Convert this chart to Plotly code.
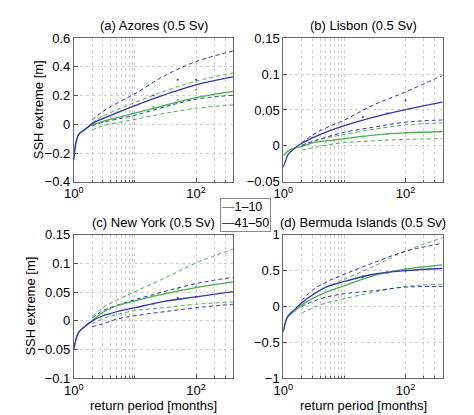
import plotly.graph_objects as go

# return periods [months]
x_fit = [1, 1.1, 1.2, 1.5, 2, 3, 5, 10, 30, 100, 400]
x_ci = [2, 3, 5, 10, 30, 100, 400]

titles = ["(a) Azores (0.5 Sv)", "(b) Lisbon (0.5 Sv)",
          "(c) New York (0.5 Sv)", "(d) Bermuda Islands (0.5 Sv)"]
legend_names = ["1\u201310", "41\u201350"]

# years 1-10 (green)
g_fit_a = [-0.2, -0.11, -0.07, -0.035, -0.005, 0.02, 0.045, 0.077, 0.13, 0.185, 0.229]
g_hi_a = [0.01, 0.056, 0.1, 0.152, 0.23, 0.30, 0.358]
g_lo_a = [-0.04, -0.011, 0.01, 0.034, 0.075, 0.112, 0.135]
# years 41-50 (blue)
b_fit_a = [-0.25, -0.12, -0.07, -0.04, 0.005, 0.04, 0.08, 0.13, 0.205, 0.275, 0.33]
b_hi_a = [0.03, 0.09, 0.146, 0.213, 0.336, 0.437, 0.51]
b_lo_a = [-0.01, 0.015, 0.035, 0.063, 0.12, 0.175, 0.202]

g_fit_b = [-0.014, -0.01, -0.007, -0.003, -0.001, 0.004, 0.007, 0.010, 0.015, 0.018, 0.020]
g_hi_b = [0.0, 0.006, 0.011, 0.016, 0.023, 0.029, 0.032]
g_lo_b = [-0.006, -0.003, 0.001, 0.0045, 0.007, 0.009, 0.010]
b_fit_b = [-0.03, -0.02, -0.012, -0.004, 0.0036, 0.011, 0.019, 0.028, 0.040, 0.0506, 0.061]
b_hi_b = [0.004, 0.015, 0.025, 0.036, 0.057, 0.075, 0.098]
b_lo_b = [0.001, 0.006, 0.012, 0.019, 0.026, 0.033, 0.036]

g_fit_c = [-0.05, -0.03, -0.02, -0.01, 0.0, 0.015, 0.026, 0.035, 0.047, 0.058, 0.068]
g_hi_c = [0.008, 0.023, 0.036, 0.051, 0.074, 0.101, 0.125]
g_lo_c = [-0.005, 0.004, 0.011, 0.018, 0.023, 0.029, 0.033]
b_fit_c = [-0.05, -0.03, -0.02, -0.01, 0.0, 0.009, 0.016, 0.023, 0.034, 0.042, 0.051]
b_hi_c = [0.005, 0.018, 0.027, 0.037, 0.051, 0.065, 0.076]
b_lo_c = [-0.01, -0.005, 0.003, 0.009, 0.016, 0.023, 0.029]

g_fit_d = [-0.35, -0.2, -0.14, -0.07, 0.02, 0.11, 0.2, 0.29, 0.43, 0.52, 0.58]
g_hi_d = [0.05, 0.17, 0.27, 0.38, 0.56, 0.77, 0.96]
g_lo_d = [-0.09, -0.02, 0.05, 0.11, 0.2, 0.28, 0.31]
b_fit_d = [-0.35, -0.2, -0.13, -0.05, 0.05, 0.16, 0.27, 0.35, 0.45, 0.50, 0.53]
b_hi_d = [0.08, 0.23, 0.34, 0.45, 0.61, 0.77, 0.88]
b_lo_d = [0.0, 0.07, 0.13, 0.18, 0.22, 0.27, 0.28]

# empirical points (small dots)
x_dots = [20, 50, 100]
g_dots = [[0.12, 0.17, 0.24], [0.013, 0.017, 0.018], [0.045, 0.056, 0.06], [0.4, 0.48, 0.52]]
b_dots = [[0.2, 0.31, 0.31], [0.04, 0.045, 0.063], [0.03, 0.04, 0.042], [0.42, 0.47, 0.5]]

y_ranges = [[-0.4, 0.6], [-0.05, 0.15], [-0.1, 0.15], [-1, 1]]
y_ticks = [[-0.4, -0.2, 0, 0.2, 0.4, 0.6],
           [-0.05, 0, 0.05, 0.1, 0.15],
           [-0.1, -0.05, 0, 0.05, 0.1, 0.15],
           [-1, -0.5, 0, 0.5, 1]]
y_ticktext = [["\u22120.4", "\u22120.2", "0", "0.2", "0.4", "0.6"],
              ["\u22120.05", "0", "0.05", "0.1", "0.15"],
              ["\u22120.1", "\u22120.05", "0", "0.05", "0.1", "0.15"],
              ["\u22121", "\u22120.5", "0", "0.5", "1"]]

green = "#45b04c"
blue = "#3535b0"

panels = [
    (g_fit_a, g_hi_a, g_lo_a, b_fit_a, b_hi_a, b_lo_a),
    (g_fit_b, g_hi_b, g_lo_b, b_fit_b, b_hi_b, b_lo_b),
    (g_fit_c, g_hi_c, g_lo_c, b_fit_c, b_hi_c, b_lo_c),
    (g_fit_d, g_hi_d, g_lo_d, b_fit_d, b_hi_d, b_lo_d),
]

x_domains = [[0.1203, 0.4641], [0.5717, 0.9156], [0.1203, 0.4641], [0.5717, 0.9156]]
y_domains = [[0.5831, 0.9422], [0.5831, 0.9422], [0.0916, 0.4506], [0.0916, 0.4506]]
ylabel_x = [0.046, None, 0.026, None]

font = "Liberation Sans, Arial, sans-serif"
grid = "#cfcfcf"
fig = go.Figure()

for i, (gf, gh, gl, bf, bh, bl) in enumerate(panels):
    n = "" if i == 0 else str(i + 1)
    xa, ya = "x" + n, "y" + n
    for ys, col in [(gh, green), (gl, green), (bh, blue), (bl, blue)]:
        fig.add_trace(go.Scatter(x=x_ci, y=ys, mode="lines", xaxis=xa, yaxis=ya,
                                 line=dict(color=col, width=1, dash="4px,3px", shape="spline"),
                                 showlegend=False))
    fig.add_trace(go.Scatter(x=x_dots, y=g_dots[i], mode="markers", xaxis=xa, yaxis=ya,
                             marker=dict(color=green, size=2), showlegend=False))
    fig.add_trace(go.Scatter(x=x_dots, y=b_dots[i], mode="markers", xaxis=xa, yaxis=ya,
                             marker=dict(color=blue, size=2), showlegend=False))
    fig.add_trace(go.Scatter(x=x_fit, y=gf, mode="lines", xaxis=xa, yaxis=ya, name=legend_names[0],
                             line=dict(color=green, width=1.3, shape="spline"), showlegend=False))
    fig.add_trace(go.Scatter(x=x_fit, y=bf, mode="lines", xaxis=xa, yaxis=ya, name=legend_names[1],
                             line=dict(color=blue, width=1.3, shape="spline"), showlegend=False))

    fig.update_layout({
        "xaxis" + n: dict(
            type="log", range=[0, 2.61], domain=x_domains[i], anchor=ya,
            tickvals=[1, 100], ticktext=["10<sup>0</sup>", "10<sup>2</sup>"],
            ticks="inside", ticklen=4, tickcolor="#555",
            showgrid=True, gridcolor=grid, griddash="dot", gridwidth=1,
            minor=dict(tickvals=[2, 3, 4, 5, 6, 7, 8, 9, 10, 200, 300, 400],
                       showgrid=True, gridcolor=grid, griddash="dot", gridwidth=1,
                       ticks="inside", ticklen=2, tickcolor="#555"),
            showline=True, linecolor="#666", linewidth=1, mirror=True, zeroline=False,
            tickfont=dict(size=13, color="black"),
        ),
        "yaxis" + n: dict(
            range=y_ranges[i], domain=y_domains[i], anchor=xa,
            tickvals=y_ticks[i], ticktext=y_ticktext[i],
            ticks="inside", ticklen=4, tickcolor="#555",
            showgrid=True, gridcolor=grid, griddash="dot", gridwidth=1,
            showline=True, linecolor="#666", linewidth=1, mirror=True, zeroline=False,
            tickfont=dict(size=13, color="black"),
        ),
    })
    fig.add_annotation(text=titles[i], xref="paper", yref="paper",
                       x=sum(x_domains[i]) / 2, y=y_domains[i][1] + 0.008,
                       xanchor="center", yanchor="bottom", showarrow=False,
                       font=dict(size=13, color="black"))
    if ylabel_x[i] is not None:
        fig.add_annotation(text="SSH extreme [m]", xref="paper", yref="paper",
                           x=ylabel_x[i], y=sum(y_domains[i]) / 2, textangle=-90,
                           xanchor="center", yanchor="middle", showarrow=False,
                           font=dict(size=13, color="black"))
    if i >= 2:
        fig.add_annotation(text="return period [months]", xref="paper", yref="paper",
                           x=sum(x_domains[i]) / 2, y=0.0,
                           xanchor="center", yanchor="bottom", showarrow=False,
                           font=dict(size=13, color="black"))

# compact legend box, as in the original figure
legend_text = ("<span style='color:%s'>\u2014</span>%s<br><span style='color:%s'>\u2014</span>%s"
               % (green, legend_names[0], blue, legend_names[1]))
fig.add_annotation(text=legend_text, xref="paper", yref="paper", x=0.4346, y=0.5422,
                   xanchor="left", yanchor="top", align="left", showarrow=False,
                   bgcolor="white", bordercolor="#888", borderwidth=1, borderpad=1,
                   font=dict(size=12.5, color="black"))

fig.update_layout(
    width=474, height=415,
    margin=dict(l=0, r=0, t=0, b=0),
    paper_bgcolor="white", plot_bgcolor="white",
    font=dict(family=font, size=13, color="black"),
    showlegend=False,
)

fig.write_html("out.html")
